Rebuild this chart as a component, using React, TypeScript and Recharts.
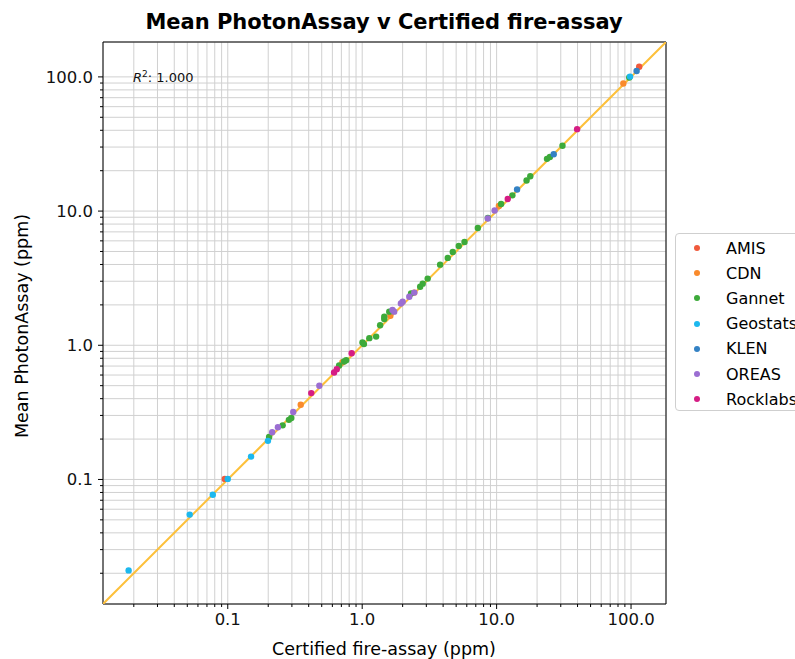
import React from 'react';
import {
  ScatterChart,
  Scatter,
  XAxis,
  YAxis,
  CartesianGrid,
  ReferenceArea,
} from 'recharts';

// [certified, mean photon assay] in ppm
const amis: [number, number][] = [
  [0.095, 0.101],
  [115, 119],
];
const cdn: [number, number][] = [
  [0.349, 0.36],
  [0.713, 0.748],
  [1.62, 1.66],
  [2.44, 2.47],
  [10.4, 10.9],
  [87.6, 89.2],
];
const gannet: [number, number][] = [
  [0.203, 0.207],
  [0.256, 0.253],
  [0.285, 0.278],
  [0.297, 0.287],
  [0.674, 0.707],
  [0.734, 0.757],
  [0.76, 0.774],
  [1.005, 1.05],
  [1.03, 1.02],
  [1.13, 1.13],
  [1.27, 1.16],
  [1.36, 1.41],
  [1.46, 1.57],
  [1.46, 1.63],
  [1.59, 1.78],
  [2.31, 2.43],
  [2.7, 2.73],
  [2.82, 2.88],
  [3.07, 3.14],
  [3.8, 3.99],
  [4.33, 4.48],
  [4.72, 4.96],
  [5.23, 5.5],
  [5.77, 5.89],
  [7.25, 7.48],
  [8.61, 8.87],
  [10.8, 11.3],
  [13.1, 13.1],
  [16.7, 16.9],
  [17.8, 18.2],
  [23.7, 24.5],
  [24.9, 25.3],
  [30.9, 30.7],
  [97, 99],
];
const geostats: [number, number][] = [
  [0.0183, 0.021],
  [0.0521, 0.0547],
  [0.0774, 0.077],
  [0.1, 0.101],
  [0.149, 0.148],
  [0.199, 0.194],
  [98.3, 100.5],
];
const klen: [number, number][] = [
  [14.2, 14.5],
  [26.6, 26.5],
  [110, 110.7],
];
const oreas: [number, number][] = [
  [0.214, 0.225],
  [0.236, 0.245],
  [0.307, 0.318],
  [0.48, 0.499],
  [1.68, 1.83],
  [1.73, 1.78],
  [1.94, 2.05],
  [2.0, 2.11],
  [2.24, 2.3],
  [2.44, 2.47],
  [8.6, 8.8],
  [9.67, 10.1],
];
const rocklabs: [number, number][] = [
  [0.418, 0.44],
  [0.618, 0.627],
  [0.647, 0.664],
  [0.835, 0.872],
  [12.1, 12.3],
  [39.7, 40.8],
];

const majorTicks = [0.1, 1, 10, 100];
const minorTicks = [
  0.02, 0.03, 0.04, 0.05, 0.06, 0.07, 0.08, 0.09,
  0.2, 0.3, 0.4, 0.5, 0.6, 0.7, 0.8, 0.9,
  2, 3, 4, 5, 6, 7, 8, 9,
  20, 30, 40, 50, 60, 70, 80, 90,
];
const allTicks = [...minorTicks, ...majorTicks].sort((a, b) => a - b);
const axisMin = 0.0118;
const axisMax = 182;

const groups = [
  { name: 'AMIS', color: '#f05a3c', data: amis },
  { name: 'CDN', color: '#f98a2c', data: cdn },
  { name: 'Gannet', color: '#3daa3a', data: gannet },
  { name: 'Geostats', color: '#1cb8ee', data: geostats },
  { name: 'KLEN', color: '#3482c4', data: klen },
  { name: 'OREAS', color: '#9b6ed2', data: oreas },
  { name: 'Rocklabs', color: '#d51d84', data: rocklabs },
];

const identityLine = [
  { x: axisMin, y: axisMin },
  { x: axisMax, y: axisMax },
];

const FONT = '"DejaVu Sans", sans-serif';
const TICK_FS = 16.5;

const isMajor = (v: number) => majorTicks.includes(v);

const XTick = (props: any) => {
  const { x, y, payload } = props;
  const major = isMajor(payload.value);
  return (
    <g>
      <line x1={x} x2={x} y1={y} y2={y + (major ? 5 : 3)} stroke="#000" />
      {major && (
        <text x={x} y={y + 8} dy="0.76em" textAnchor="middle" fontSize={TICK_FS} fontFamily={FONT} fill="#111">
          {payload.value.toFixed(1)}
        </text>
      )}
    </g>
  );
};

const YTick = (props: any) => {
  const { x, y, payload } = props;
  const major = isMajor(payload.value);
  return (
    <g>
      <line x1={x} x2={x - (major ? 5 : 3)} y1={y} y2={y} stroke="#000" />
      {major && (
        <text x={x - 10} y={y} dy="0.36em" textAnchor="end" fontSize={TICK_FS} fontFamily={FONT} fill="#111">
          {payload.value.toFixed(1)}
        </text>
      )}
    </g>
  );
};

const dot = (color: string) => (p: any) => <circle cx={p.cx} cy={p.cy} r={3.2} fill={color} />;

export default function App() {
  return (
    <div style={{ position: 'absolute', left: 0, top: 0, width: 795, height: 659, overflow: 'hidden', background: '#fff', fontFamily: FONT }}>
      <div style={{ position: 'absolute', left: 384, top: 10, transform: 'translateX(-50%)', whiteSpace: 'nowrap', fontWeight: 'bold', fontSize: 21 }}>
        Mean PhotonAssay v Certified fire-assay
      </div>
      <ScatterChart width={795} height={659} margin={{ top: 42, right: 129, bottom: 15, left: 13 }}>
        <CartesianGrid stroke="#d0d0d0" strokeWidth={1} />
        <XAxis
          dataKey="x"
          type="number"
          scale="log"
          domain={[axisMin, axisMax]}
          allowDataOverflow
          ticks={allTicks}
          interval={0}
          tick={<XTick />}
          tickLine={false}
          axisLine={false}
          tickSize={0}
          tickMargin={0}
          height={40}
        />
        <YAxis
          dataKey="y"
          type="number"
          scale="log"
          domain={[axisMin, axisMax]}
          allowDataOverflow
          ticks={allTicks}
          interval={0}
          tick={<YTick />}
          tickLine={false}
          axisLine={false}
          tickSize={0}
          tickMargin={0}
          width={90}
        />
        <Scatter
          data={identityLine}
          line={{ stroke: '#fdc03a', strokeWidth: 2 }}
          shape={() => <g />}
          isAnimationActive={false}
        />
        {groups.map((g) => (
          <Scatter
            key={g.name}
            name={g.name}
            data={g.data.map(([x, y]) => ({ x, y }))}
            shape={dot(g.color)}
            isAnimationActive={false}
          />
        ))}
        <ReferenceArea
          x1={axisMin}
          x2={axisMax}
          y1={axisMin}
          y2={axisMax}
          fill="none"
          stroke="#000"
          strokeWidth={1}
          ifOverflow="visible"
        />
      </ScatterChart>
      <div style={{ position: 'absolute', left: 133, top: 69, fontSize: 13, whiteSpace: 'nowrap', color: '#111' }}>
        <span style={{ fontStyle: 'italic' }}>R</span>
        <sup style={{ fontSize: 9 }}>2</sup>: 1.000
      </div>
      <div style={{ position: 'absolute', left: 384, top: 639, transform: 'translateX(-50%)', whiteSpace: 'nowrap', fontSize: 17.5 }}>
        Certified fire-assay (ppm)
      </div>
      <div style={{ position: 'absolute', left: 22, top: 326, transform: 'translate(-50%, -50%) rotate(-90deg)', whiteSpace: 'nowrap', fontSize: 17.5 }}>
        Mean PhotonAssay (ppm)
      </div>
      <div style={{ position: 'absolute', left: 675, top: 233, width: 140, height: 178, border: '1px solid #cfcfcf', borderRadius: 4, background: '#fff', boxSizing: 'border-box' }}>
        {groups.map((g, i) => (
          <div key={g.name} style={{ position: 'absolute', left: 0, top: 3 + i * 25.2, height: 22, display: 'flex', alignItems: 'center', fontSize: 16, whiteSpace: 'nowrap' }}>
            <span style={{ display: 'inline-block', width: 6, height: 6, borderRadius: 3, background: g.color, marginLeft: 18 }} />
            <span style={{ marginLeft: 26 }}>{g.name}</span>
          </div>
        ))}
      </div>
    </div>
  );
}
